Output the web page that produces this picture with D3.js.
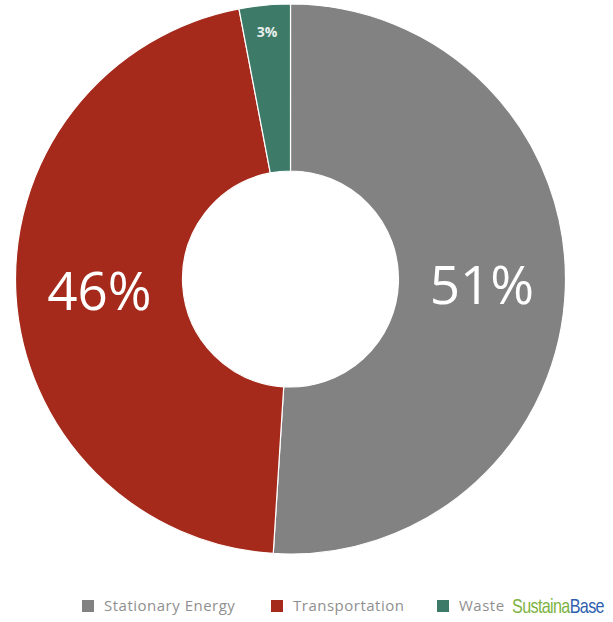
<!DOCTYPE html>
<html>
<head>
<meta charset="utf-8">
<script src="https://cdn.jsdelivr.net/npm/d3@7"></script>
<style>
  html, body { margin: 0; padding: 0; background: #ffffff; }
  svg { display: block; }
</style>
</head>
<body>
<svg id="chart" width="613" height="622"></svg>
<script>
// Emission shares by sector
const categories = ["Stationary Energy", "Transportation", "Waste"];
const shares = [51, 46, 3];
const colors = ["#828282", "#a52a1c", "#3d7a68"];

const svg = d3.select("#chart");
const cx = 290.5, cy = 279;
const outerR = 275, innerR = 108;

const data = categories.map((c, i) => ({ name: c, value: shares[i], color: colors[i] }));

const pie = d3.pie().value(d => d.value).sort(null);
const arc = d3.arc().innerRadius(innerR).outerRadius(outerR);
const arcs = pie(data);

const g = svg.append("g").attr("transform", `translate(${cx},${cy})`);

g.selectAll("path.slice")
  .data(arcs)
  .join("path")
  .attr("class", "slice")
  .attr("d", arc)
  .attr("fill", d => d.data.color)
  .attr("stroke", "#ffffff")
  .attr("stroke-width", 1.2);

// Big percentage labels at slice centroids; small slices get a label near the rim
const rimArc = d3.arc().innerRadius(248).outerRadius(248);
g.selectAll("text.pct")
  .data(arcs)
  .join("text")
  .attr("class", "pct")
  .attr("transform", d => {
    const p = d.data.value < 10 ? rimArc.centroid(d) : arc.centroid(d);
    return `translate(${p[0]},${p[1]})`;
  })
  .attr("text-anchor", "middle")
  .attr("dy", "0.35em")
  .attr("fill", d => d.data.value < 10 ? "#e6efec" : "#ffffff")
  .style("font-family", "'Open Sans', sans-serif")
  .style("font-size", d => d.data.value < 10 ? "14px" : "53px")
  .style("font-weight", d => d.data.value < 10 ? "700" : "400")
  .text(d => d.data.value + "%");

// Legend row
const legendX = [82, 271, 437];
const legendY = 606;
const items = svg.append("g")
  .selectAll("g.item")
  .data(data)
  .join("g")
  .attr("class", "item")
  .attr("transform", (d, i) => `translate(${legendX[i]},${legendY})`);

items.append("rect")
  .attr("x", 0).attr("y", -6)
  .attr("width", 12).attr("height", 12)
  .attr("fill", d => d.color);

items.append("text")
  .attr("x", 22).attr("y", 0)
  .attr("dy", "0.35em")
  .attr("fill", "#8f8f8f")
  .style("font-family", "'Open Sans', sans-serif")
  .style("font-size", "15px")
  .style("letter-spacing", "0.5px")
  .text(d => d.name);

// Brand mark: condensed green word followed directly by the blue word
const brandFont = "'Liberation Sans', Arial, sans-serif";
const brandWidth = 92;
const brand = svg.append("g");
const first = brand.append("text")
  .attr("x", 0).attr("y", 0)
  .attr("dy", "0.35em")
  .attr("fill", "#7cb342")
  .style("font-family", brandFont)
  .style("font-size", "20px")
  .style("letter-spacing", "-0.8px")
  .text("Sustaina");
const w1 = first.node().getComputedTextLength();
const second = brand.append("text")
  .attr("x", w1).attr("y", 0)
  .attr("dy", "0.35em")
  .attr("fill", "#2f5fae")
  .style("font-family", brandFont)
  .style("font-size", "20px")
  .style("letter-spacing", "-0.8px")
  .text("Base");
const total = w1 + second.node().getComputedTextLength();
brand.attr("transform", `translate(512,${legendY}) scale(${brandWidth / total},1)`);
</script>
</body>
</html>
